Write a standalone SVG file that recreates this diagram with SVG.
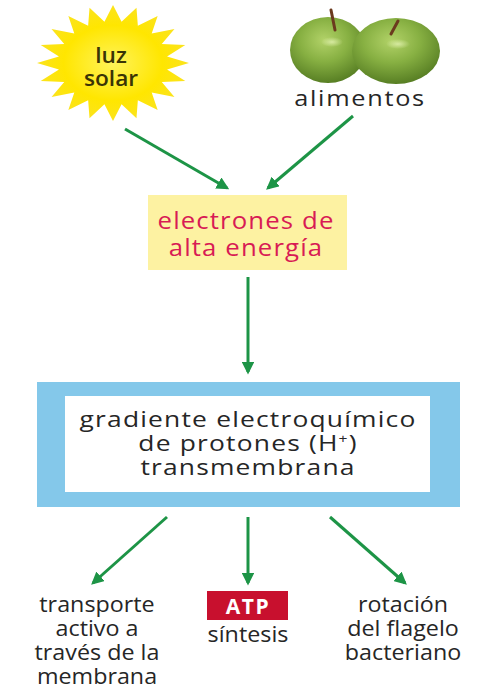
<svg xmlns="http://www.w3.org/2000/svg" width="481" height="691" viewBox="0 0 481 691">
  <style>
    .lbl { font-family: "Open Sans", "Noto Sans", "DejaVu Sans", sans-serif; fill: #262626; text-anchor: middle; }
    .flow { stroke: #1d9446; stroke-width: 3; fill: none; marker-end: url(#head); }
  </style>
  <defs>
    <marker id="head" viewBox="0 0 10 10" refX="8" refY="5" markerWidth="4.2" markerHeight="4.2" orient="auto" markerUnits="strokeWidth">
      <path d="M0,0 L10,5 L0,10 Z" fill="#1d9446"/>
    </marker>
    <radialGradient id="sunFill" cx="0.5" cy="0.5" r="0.5">
      <stop offset="0" stop-color="#fff35a"/>
      <stop offset="0.65" stop-color="#ffe600"/>
      <stop offset="1" stop-color="#fbe31e"/>
    </radialGradient>
    <radialGradient id="appleFill" cx="0.45" cy="0.35" r="0.65">
      <stop offset="0" stop-color="#b2d268"/>
      <stop offset="0.5" stop-color="#87b042"/>
      <stop offset="1" stop-color="#587f24"/>
    </radialGradient>
    <radialGradient id="shine" cx="0.5" cy="0.5" r="0.5">
      <stop offset="0" stop-color="#e2f2b0" stop-opacity="0.8"/>
      <stop offset="1" stop-color="#e2f2b0" stop-opacity="0"/>
    </radialGradient>
  </defs>

  <!-- sun -->
  <g id="sun">
    <polygon transform="translate(113,63) scale(76,58)" fill="url(#sunFill)"
      points="1,0 .7111,.1126 .9511,.309 .6415,.3269 .809,.5878 .5091,.5091 .5878,.809 .3269,.6415 .309,.9511 .1126,.7111 0,1 -.1126,.7111 -.309,.9511 -.3269,.6415 -.5878,.809 -.5091,.5091 -.809,.5878 -.6415,.3269 -.9511,.309 -.7111,.1126 -1,0 -.7111,-.1126 -.9511,-.309 -.6415,-.3269 -.809,-.5878 -.5091,-.5091 -.5878,-.809 -.3269,-.6415 -.309,-.9511 -.1126,-.7111 0,-1 .1126,-.7111 .309,-.9511 .3269,-.6415 .5878,-.809 .5091,-.5091 .809,-.5878 .6415,-.3269 .9511,-.309 .7111,-.1126"/>
    <g transform="translate(111,0) scale(1.08,1)">
      <text class="lbl" x="0" y="63" font-size="21" font-weight="600" style="fill:#3a3405">luz</text>
      <text class="lbl" x="0" y="86" font-size="21" font-weight="600" style="fill:#3a3405">solar</text>
    </g>
  </g>

  <!-- apples -->
  <g id="food">
    <ellipse cx="328" cy="50" rx="38" ry="33" fill="url(#appleFill)"/>
    <path d="M331,10 L335,30" stroke="#6b3a1e" stroke-width="3" stroke-linecap="round"/>
    <ellipse cx="396" cy="51" rx="44" ry="33" fill="url(#appleFill)"/>
    <path d="M398,21 L391,34" stroke="#6b3a1e" stroke-width="3" stroke-linecap="round"/>
    <ellipse cx="332" cy="42" rx="11" ry="5" fill="url(#shine)"/>
    <ellipse cx="398" cy="44" rx="12" ry="5" fill="url(#shine)"/>
    <g transform="translate(360,0) scale(1.15,1)">
      <text class="lbl" x="0" y="106" font-size="22" letter-spacing="1.5">alimentos</text>
    </g>
  </g>

  <!-- high-energy electrons -->
  <g id="electrons">
    <rect x="148" y="195" width="199" height="75" fill="#fdf2a2"/>
    <g transform="translate(246,0) scale(1.12,1)">
      <text class="lbl" x="0" y="229" font-size="23" letter-spacing="1" style="fill:#d81b55">electrones de</text>
      <text class="lbl" x="0" y="256" font-size="23" letter-spacing="1" style="fill:#d81b55">alta energía</text>
    </g>
  </g>

  <!-- proton gradient -->
  <g id="gradient">
    <rect x="37" y="382" width="423" height="125" fill="#84c8ea"/>
    <rect x="65" y="396" width="365" height="96" fill="#ffffff"/>
    <g transform="translate(248,0) scale(1.2,1)">
      <text class="lbl" x="0" y="427" font-size="22" letter-spacing="1">gradiente electroquímico</text>
      <text class="lbl" x="0" y="451" font-size="22" letter-spacing="1">de protones (H<tspan font-size="13" dy="-8">+</tspan><tspan dy="8">)</tspan></text>
      <text class="lbl" x="0" y="475" font-size="22" letter-spacing="1">transmembrana</text>
    </g>
  </g>

  <!-- outcomes -->
  <g id="transport">
    <g transform="translate(97,0) scale(1.06,1)">
      <text class="lbl" x="0" y="612" font-size="22">transporte</text>
      <text class="lbl" x="0" y="636" font-size="22">activo a</text>
      <text class="lbl" x="0" y="660" font-size="22">través de la</text>
      <text class="lbl" x="0" y="684" font-size="22">membrana</text>
    </g>
  </g>
  <g id="atp">
    <rect x="207" y="591" width="81" height="29" fill="#c8102e"/>
    <text class="lbl" x="248" y="614" font-size="21" font-weight="bold" letter-spacing="1.5" style="fill:#ffffff">ATP</text>
    <g transform="translate(248,0) scale(1.06,1)">
      <text class="lbl" x="0" y="642" font-size="22">síntesis</text>
    </g>
  </g>
  <g id="flagellum">
    <g transform="translate(403,0) scale(1.06,1)">
      <text class="lbl" x="0" y="612" font-size="22">rotación</text>
      <text class="lbl" x="0" y="636" font-size="22">del flagelo</text>
      <text class="lbl" x="0" y="660" font-size="22">bacteriano</text>
    </g>
  </g>

  <!-- connectors -->
  <g id="connectors">
    <line class="flow" x1="125" y1="129" x2="227" y2="188"/>
    <line class="flow" x1="353" y1="116" x2="268" y2="188"/>
    <line class="flow" x1="248" y1="277" x2="248" y2="372"/>
    <line class="flow" x1="167" y1="517" x2="93" y2="583"/>
    <line class="flow" x1="248" y1="517" x2="248" y2="583"/>
    <line class="flow" x1="330" y1="517" x2="405" y2="583"/>
  </g>
</svg>
